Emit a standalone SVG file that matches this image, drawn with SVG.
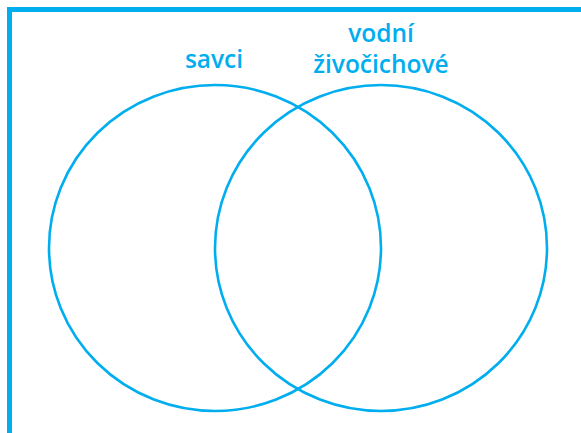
<svg xmlns="http://www.w3.org/2000/svg" width="581" height="433" viewBox="0 0 581 433">
<style>
.frame{stroke:#00aeef;stroke-width:5;fill:none}
.set{stroke:#00aeef;stroke-width:2.6;fill:none}
.lbl{fill:#00aeef;font-family:"Open Sans","Noto Sans",sans-serif;font-weight:600;font-size:24.5px;text-anchor:middle}
</style>
<rect width="581" height="433" fill="#ffffff"/>
<g id="frame">
<path class="frame" d="M9.5 433 V9.5 H581"/>
</g>
<g id="savci">
<ellipse class="set" cx="215" cy="248" rx="166" ry="163"/>
<text class="lbl" x="214" y="68">savci</text>
</g>
<g id="vodni-zivocichove">
<ellipse class="set" cx="381" cy="248" rx="166" ry="163"/>
<text class="lbl" x="381" y="42">vodní</text>
<text class="lbl" x="381" y="73">živočichové</text>
</g>
<g id="connectors"></g>
</svg>
